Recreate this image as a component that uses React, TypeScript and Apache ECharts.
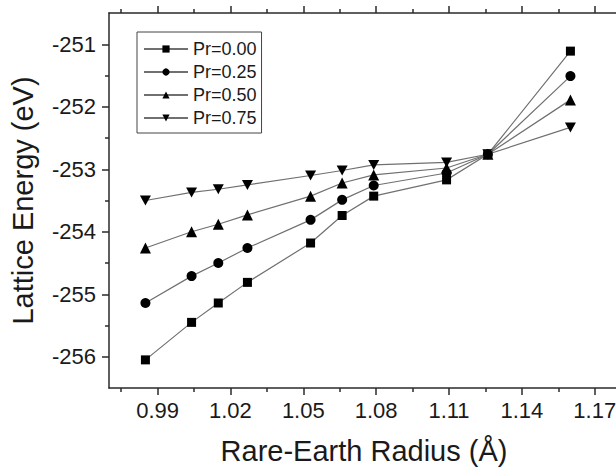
import React, { useEffect, useRef } from "react";
import * as echarts from "echarts";

// Rare-earth ionic radii (Å)
const radii = [0.985, 1.004, 1.015, 1.027, 1.053, 1.066, 1.079, 1.109, 1.126, 1.16];
// Lattice energies (eV)
const pr000 = [-256.05, -255.45, -255.14, -254.81, -254.18, -253.74, -253.43, -253.17, -252.76, -251.11];
const pr025 = [-255.14, -254.71, -254.5, -254.26, -253.81, -253.49, -253.26, -253.06, -252.76, -251.51];
const pr050 = [-254.26, -254.0, -253.88, -253.73, -253.43, -253.22, -253.09, -252.98, -252.76, -251.89];
const pr075 = [-253.5, -253.37, -253.32, -253.25, -253.1, -253.02, -252.93, -252.89, -252.76, -252.33];

const seriesNames = ["Pr=0.00", "Pr=0.25", "Pr=0.50", "Pr=0.75"];

const xMajorTicks = [0.99, 1.02, 1.05, 1.08, 1.11, 1.14, 1.17];
const xMinorTicks = [0.975, 1.005, 1.035, 1.065, 1.095, 1.125, 1.155];
const yMajorTicks = [-256, -255, -254, -253, -252, -251];
const yMinorTicks = [-255.5, -254.5, -253.5, -252.5, -251.5];

const X_MIN = 0.97;
const X_MAX = 1.18;
const Y_MIN = -256.5;
const Y_MAX = -250.5;

const FONT = "'Liberation Sans', Arial, sans-serif";
const AXIS_COLOR = "#2a2a2a";
const LINE_COLOR = "#707070";

const downTriangle = "path://M0,0 L10,0 L5,9 Z";

export default function App() {
  const ref = useRef<HTMLDivElement>(null);

  useEffect(() => {
    if (!ref.current) return;
    const chart = echarts.init(ref.current, null, { renderer: "svg" });

    const mkX = (position: string, ticks: number[], len: number, showLine: boolean, labels: boolean, name?: string) => ({
      type: "value",
      position,
      min: X_MIN,
      max: X_MAX,
      name: name || "",
      nameLocation: "middle",
      nameGap: 48,
      nameTextStyle: { fontFamily: FONT, fontSize: 29, color: "#1a1a1a" },
      splitLine: { show: false },
      axisLine: { show: showLine, onZero: false, lineStyle: { color: AXIS_COLOR, width: 1.5 } },
      axisTick: {
        show: true,
        inside: false,
        length: len,
        customValues: ticks,
        lineStyle: { color: AXIS_COLOR, width: 1.5 },
      },
      axisLabel: {
        show: labels,
        customValues: ticks,
        margin: 11,
        fontFamily: FONT,
        fontSize: 22,
        color: "#1a1a1a",
        formatter: (v: number) => v.toFixed(2),
      },
    });

    const mkY = (position: string, ticks: number[], len: number, showLine: boolean, labels: boolean, name?: string) => ({
      type: "value",
      position,
      min: Y_MIN,
      max: Y_MAX,
      name: name || "",
      nameLocation: "middle",
      nameGap: 72,
      nameTextStyle: { fontFamily: FONT, fontSize: 29, color: "#1a1a1a" },
      splitLine: { show: false },
      axisLine: { show: showLine, onZero: false, lineStyle: { color: AXIS_COLOR, width: 1.5 } },
      axisTick: {
        show: true,
        inside: false,
        length: len,
        customValues: ticks,
        lineStyle: { color: AXIS_COLOR, width: 1.5 },
      },
      axisLabel: {
        show: labels,
        customValues: ticks,
        margin: 13,
        fontFamily: FONT,
        fontSize: 22,
        color: "#1a1a1a",
        formatter: (v: number) => String(v),
      },
    });

    const datasets = [pr000, pr025, pr050, pr075];
    const symbols = ["rect", "circle", "triangle", downTriangle];
    const sizes = [9, 10, 11, [11, 10]];
    const zs = [2, 5, 3, 4];

    const series = datasets.map((vals, i) => ({
      type: "line",
      name: seriesNames[i],
      xAxisIndex: 0,
      yAxisIndex: 0,
      z: zs[i],
      data: radii.map((x, k) => [x, vals[k]]),
      symbol: symbols[i],
      symbolSize: sizes[i],
      showAllSymbol: true,
      itemStyle: { color: "#000", opacity: 1 },
      lineStyle: { color: LINE_COLOR, width: 1.2 },
      emphasis: { disabled: true },
    }));

    chart.setOption({
      animation: false,
      grid: { left: 109, right: -3, top: 13, bottom: 81, outerBoundsMode: "none" },
      legend: {
        show: true,
        data: seriesNames,
        orient: "vertical",
        left: 137,
        top: 32,
        padding: [8, 5, 6, 6],
        itemGap: 5,
        itemWidth: 44,
        itemHeight: 9,
        borderColor: "#444",
        borderWidth: 1,
        textStyle: { fontFamily: FONT, fontSize: 18, color: "#1a1a1a", lineHeight: 18 },
      },
      xAxis: [
        mkX("bottom", xMajorTicks, 7, true, true, "Rare-Earth Radius (Å)"),
        mkX("bottom", xMinorTicks, 4, false, false),
        mkX("top", xMajorTicks, 7, true, false),
        mkX("top", xMinorTicks, 4, false, false),
      ],
      yAxis: [
        mkY("left", yMajorTicks, 7, true, true, "Lattice Energy (eV)"),
        mkY("left", yMinorTicks, 4, false, false),
        mkY("right", yMajorTicks, 7, true, false),
        mkY("right", yMinorTicks, 4, false, false),
      ],
      series,
    });

    return () => chart.dispose();
  }, []);

  return (
    <div
      ref={ref}
      style={{ position: "fixed", left: 0, top: 0, width: 616, height: 469, background: "#fff" }}
    />
  );
}
